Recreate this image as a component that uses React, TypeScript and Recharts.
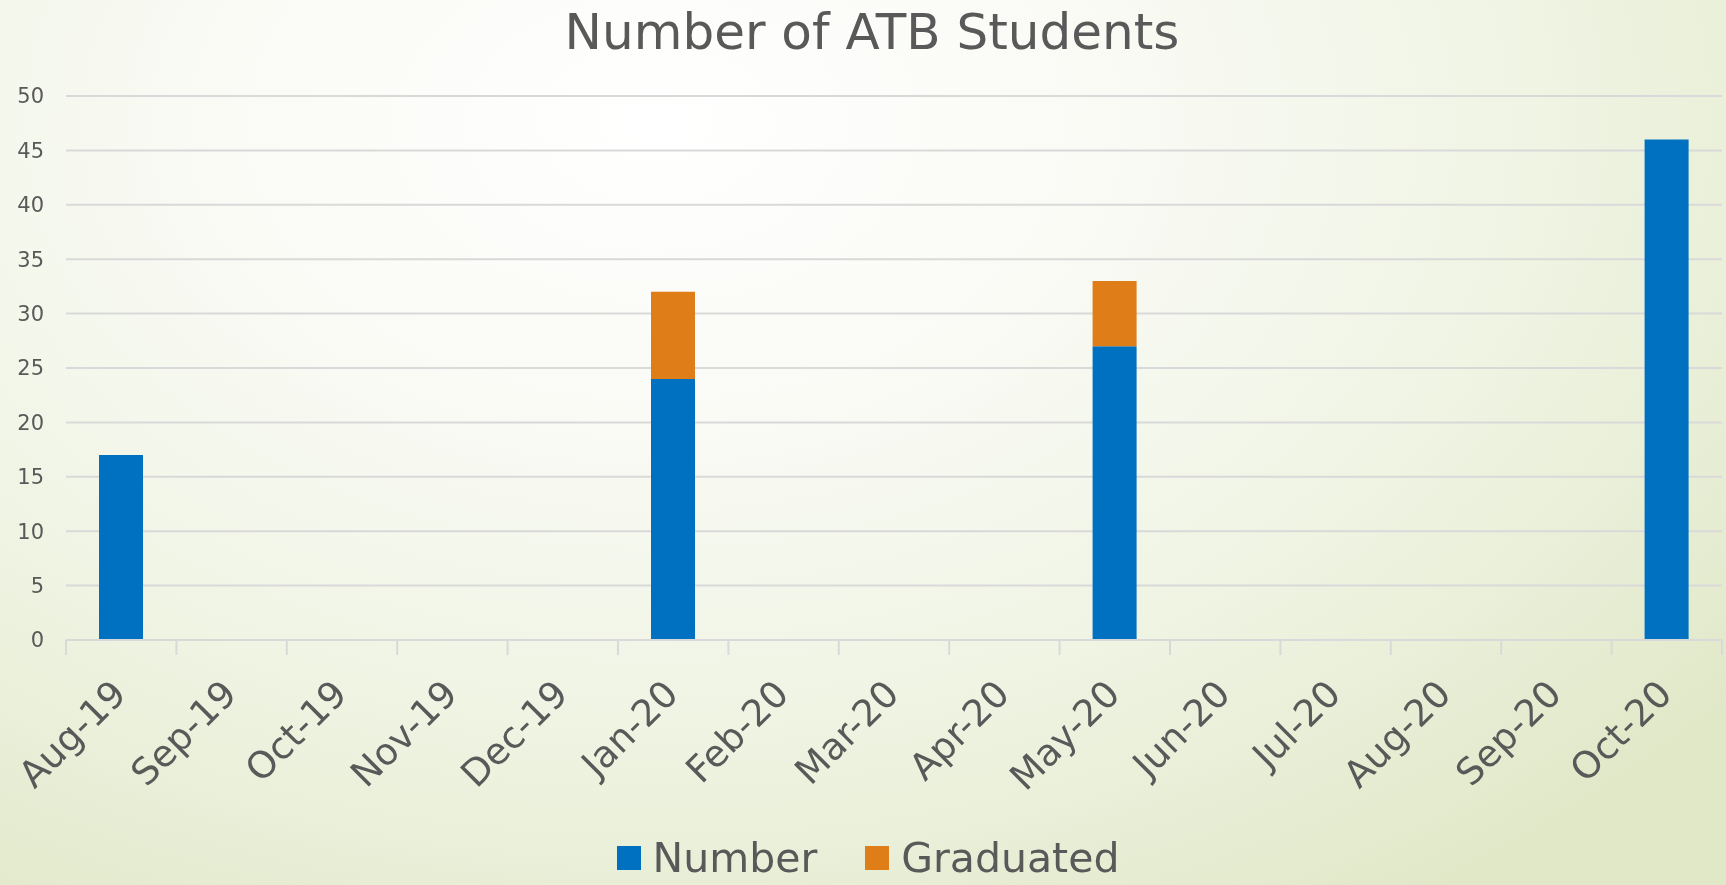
import React from "react";
import { BarChart, Bar, CartesianGrid, XAxis, YAxis, Legend } from "recharts";

const months = ["Aug-19", "Sep-19", "Oct-19", "Nov-19", "Dec-19", "Jan-20", "Feb-20", "Mar-20", "Apr-20", "May-20", "Jun-20", "Jul-20", "Aug-20", "Sep-20", "Oct-20"];
const numberVals = [17, null, null, null, null, 24, null, null, null, 27, null, null, null, null, 46];
const graduatedVals = [null, null, null, null, null, 8, null, null, null, 6, null, null, null, null, null];
const yTicks = [0, 5, 10, 15, 20, 25, 30, 35, 40, 45, 50];

const data = months.map((m, i) => ({ month: m, Number: numberVals[i], Graduated: graduatedVals[i] }));

const W = 1726;
const H = 885;
const M_LEFT = 66;
const M_RIGHT = 4;
const BAND = (W - M_LEFT - M_RIGHT) / months.length;
const TEXT = "#595959";
const GRID = "#D9D9D9";
const FONT = "'DejaVu Sans', sans-serif";
const BLUE = "#0070C0";
const ORANGE = "#DF7D18";

function MonthTick(props: any) {
  const { x, y, payload, index } = props;
  const left = x - BAND / 2;
  const ax = x + 7;
  const ay = y + 56;
  return (
    <g>
      <line x1={left} x2={left} y1={y} y2={y + 15} stroke={GRID} strokeWidth={2} />
      {index === months.length - 1 && (
        <line x1={x + BAND / 2} x2={x + BAND / 2} y1={y} y2={y + 15} stroke={GRID} strokeWidth={2} />
      )}
      <text
        x={ax}
        y={ay}
        textAnchor="end"
        transform={`rotate(-45, ${ax}, ${ay})`}
        fill={TEXT}
        fontSize={37}
        fontFamily={FONT}
      >
        {payload.value}
      </text>
    </g>
  );
}

function LegendBox() {
  const items = [
    { name: "Number", color: BLUE },
    { name: "Graduated", color: ORANGE },
  ];
  return (
    <div style={{ height: 54, display: "flex", justifyContent: "center", alignItems: "center", paddingLeft: 62, fontFamily: FONT, fontSize: 41, color: TEXT }}>
      {items.map((it) => (
        <div key={it.name} style={{ display: "flex", alignItems: "center", marginRight: 48 }}>
          <div style={{ width: 24, height: 24, background: it.color, marginRight: 12 }} />
          <span>{it.name}</span>
        </div>
      ))}
    </div>
  );
}

export default function App() {
  return (
    <div
      style={{
        position: "fixed",
        left: 0,
        top: 0,
        width: W,
        height: H,
        background: "radial-gradient(ellipse 80% 105% at 38% 14%, #ffffff 0%, #fafbf6 30%, #eef3e1 68%, #e1e8c8 100%)",
      }}
    >
      <div
        style={{
          position: "absolute",
          top: 3,
          left: 872,
          transform: "translateX(-50%)",
          fontFamily: FONT,
          fontSize: 50,
          color: TEXT,
          whiteSpace: "nowrap",
        }}
      >
        Number of ATB Students
      </div>
      <BarChart width={W} height={H} data={data} margin={{ top: 96, right: M_RIGHT, bottom: 0, left: 0 }}>
        <CartesianGrid horizontal vertical={false} stroke={GRID} strokeWidth={2} />
        <XAxis
          dataKey="month"
          height={191}
          interval={0}
          tickLine={false}
          tickSize={0}
          tickMargin={0}
          axisLine={{ stroke: GRID, strokeWidth: 2 }}
          tick={<MonthTick />}
        />
        <YAxis
          width={M_LEFT}
          domain={[0, 50]}
          ticks={yTicks}
          axisLine={false}
          tickLine={false}
          tickSize={0}
          tickMargin={22}
          tick={{ fill: TEXT, fontSize: 21, fontFamily: FONT }}
        />
        <Legend verticalAlign="bottom" height={54} content={<LegendBox />} />
        <Bar dataKey="Number" stackId="a" fill={BLUE} barSize={44} isAnimationActive={false} />
        <Bar dataKey="Graduated" stackId="a" fill={ORANGE} barSize={44} isAnimationActive={false} />
      </BarChart>
    </div>
  );
}
